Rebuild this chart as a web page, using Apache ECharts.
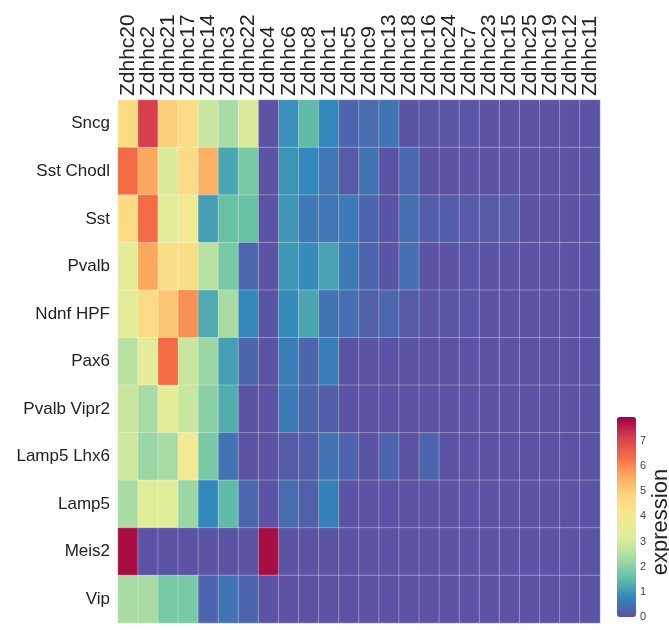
<!DOCTYPE html>
<html>
<head>
<meta charset="utf-8">
<script src="https://cdn.jsdelivr.net/npm/echarts@6/dist/echarts.min.js"></script>
<style>
  html, body { margin: 0; padding: 0; background: #fff; }
  #chart { width: 669px; height: 630px; }
</style>
</head>
<body>
<div id="chart"></div>
<script>
// column labels (genes)
const genes = ['Zdhhc20','Zdhhc2','Zdhhc21','Zdhhc17','Zdhhc14','Zdhhc3','Zdhhc22','Zdhhc4',
  'Zdhhc6','Zdhhc8','Zdhhc1','Zdhhc5','Zdhhc9','Zdhhc13','Zdhhc18','Zdhhc16','Zdhhc24',
  'Zdhhc7','Zdhhc23','Zdhhc15','Zdhhc25','Zdhhc19','Zdhhc12','Zdhhc11']
// row labels (cell types), top to bottom
const cellTypes = ['Sncg','Sst Chodl','Sst','Pvalb','Ndnf HPF','Pax6','Pvalb Vipr2','Lamp5 Lhx6','Lamp5','Meis2','Vip']

// expression per cell type, one value per gene (same order as genes)
const sncg       = [4.6,7.1,4.9,4.6,2.85,2.35,3.1,0.05,0.9,1.5,0.8,0.3,0.4,0.5,0.05,0.1,0.1,0.1,0.05,0.05,0.05,0.05,0.05,0.05]
const sstChodl   = [6.4,5.6,3.1,4.6,5.45,1.2,1.8,0.05,0.95,0.8,0.55,0.15,0.5,0.05,0.35,0.05,0.05,0.05,0.05,0.05,0.05,0.05,0.05,0.05]
const sst        = [4.6,6.4,3.4,3.9,1.1,1.6,1.6,0.05,1.0,0.6,0.55,0.6,0.3,0.05,0.45,0.2,0.2,0.15,0.15,0.15,0.05,0.05,0.05,0.05]
const pvalb      = [3.4,5.6,4.5,4.5,2.6,1.8,0.35,0.05,1.0,0.85,1.15,0.6,0.3,0.05,0.45,0.05,0.05,0.08,0.05,0.05,0.05,0.05,0.05,0.05]
const ndnfHpf    = [3.4,4.6,5.1,5.9,1.25,2.35,0.8,0.05,0.85,1.2,0.5,0.45,0.25,0.35,0.15,0.08,0.08,0.08,0.05,0.05,0.05,0.05,0.05,0.05]
const pax6       = [2.6,3.4,6.4,2.85,2.2,1.1,0.3,0.05,0.65,0.3,0.65,0.05,0.05,0.05,0.05,0.05,0.05,0.05,0.05,0.05,0.05,0.05,0.05,0.05]
const pvalbVipr2 = [2.85,2.35,3.4,2.85,2.0,1.3,0.05,0.05,0.6,0.3,0.2,0.05,0.05,0.05,0.05,0.05,0.05,0.05,0.05,0.05,0.05,0.05,0.05,0.05]
const lamp5Lhx6  = [2.9,2.2,2.35,3.9,1.8,0.5,0.05,0.05,0.15,0.2,0.5,0.3,0.05,0.3,0.05,0.3,0.05,0.05,0.05,0.05,0.05,0.05,0.05,0.05]
const lamp5      = [2.35,3.3,3.3,2.2,0.8,1.5,0.35,0.05,0.4,0.25,0.7,0.05,0.05,0.05,0.05,0.05,0.05,0.05,0.05,0.05,0.05,0.05,0.05,0.05]
const meis2      = [7.8,0.05,0.05,0.05,0.05,0.05,0.05,7.8,0.05,0.05,0.05,0.05,0.05,0.05,0.05,0.05,0.05,0.05,0.05,0.05,0.05,0.05,0.05,0.05]
const vip        = [2.35,2.35,1.8,1.8,0.3,0.5,0.3,0.05,0.05,0.05,0.05,0.05,0.05,0.05,0.05,0.05,0.05,0.05,0.05,0.05,0.05,0.05,0.05,0.05]

const rows = [sncg,sstChodl,sst,pvalb,ndnfHpf,pax6,pvalbVipr2,lamp5Lhx6,lamp5,meis2,vip]
const colorTicks = [0,1,2,3,4,5,6,7]
const exprMax = 7.95

// Spectral reversed, middle toned down a bit like the reference bar
const spectralR = ['#5e4fa2','#3288bd','#66c2a5','#abdda4','#dfed9a','#f3ea92',
  '#fdd882','#fcac60','#f46d43','#d53e4f','#9e0142']

let data = []
for (let r = 0; r < rows.length; r++)
  for (let c = 0; c < genes.length; c++)
    data.push([c, r, rows[r][c]])

const font = 'Liberation Sans, Arial, sans-serif'

let option = {
  animation: false,
  grid: [
    { left: 118, top: 100, width: 482, height: 523, outerBoundsMode: 'none' },
    // grid only used to put ticks next to the colour bar
    { left: 617, top: 417, width: 19, height: 200, outerBoundsMode: 'none' }
  ],
  xAxis: [
    {
      type: 'category',
      gridIndex: 0,
      position: 'top',
      data: genes,
      axisLine: { show: false },
      axisTick: { show: false },
      splitLine: { show: false },
      axisLabel: { rotate: -90, interval: 0, fontSize: 21, color: '#222', fontFamily: font, margin: 4 }
    },
    { type: 'value', gridIndex: 1, show: false }
  ],
  yAxis: [
    {
      type: 'category',
      gridIndex: 0,
      inverse: true,
      data: cellTypes,
      axisLine: { show: false },
      axisTick: { show: false },
      splitLine: { show: false },
      axisLabel: { interval: 0, fontSize: 17, color: '#222', fontFamily: font, margin: 8 }
    },
    {
      type: 'value',
      gridIndex: 1,
      position: 'right',
      min: 0,
      max: exprMax,
      interval: 1,
      axisLine: { show: false },
      axisTick: { show: false },
      splitLine: { show: false },
      axisLabel: {
        fontSize: 11, color: '#444', fontFamily: font, margin: 4,
        formatter: v => colorTicks.includes(v) ? String(v) : ''
      },
      name: 'expression',
      nameLocation: 'middle',
      nameRotate: 90,
      nameGap: 12,
      nameTextStyle: { fontSize: 22, color: '#222', fontFamily: font, padding: [0, 10, 0, 0] }
    }
  ],
  visualMap: {
    type: 'continuous',
    min: 0,
    max: exprMax,
    seriesIndex: 0,
    calculable: false,
    orient: 'vertical',
    left: 617,
    top: 417,
    itemWidth: 19,
    itemHeight: 200,
    padding: 0,
    text: ['', ''],
    showLabel: false,
    inRange: { color: spectralR }
  },
  series: [
    {
      type: 'heatmap',
      xAxisIndex: 0,
      yAxisIndex: 0,
      data: data,
      itemStyle: { borderColor: 'rgba(255,255,255,0.3)', borderWidth: 1 },
      emphasis: { disabled: true }
    }
  ]
}

let chartDom = echarts.init(document.querySelector('#chart'))
chartDom.setOption(option)
</script>
</body>
</html>
